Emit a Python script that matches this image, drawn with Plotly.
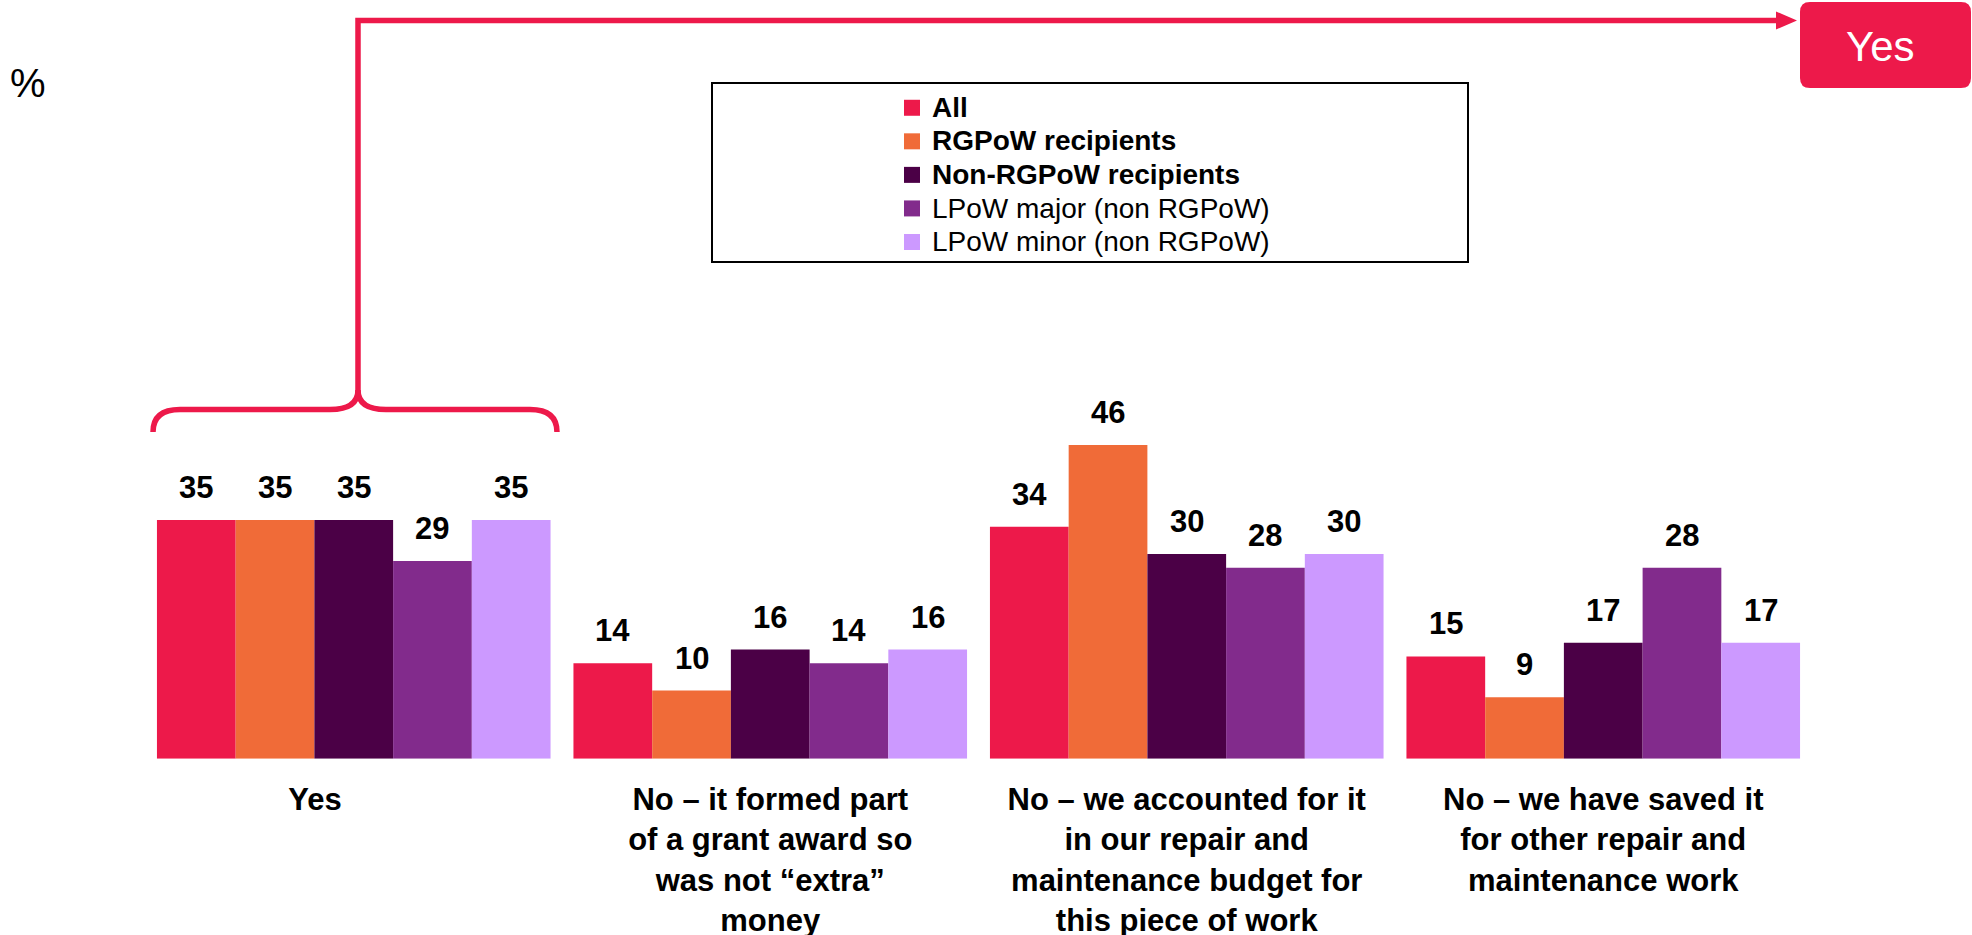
import plotly.graph_objects as go

W, H = 1972, 935

categories = ["Yes",
              "No – it formed part of a grant award so was not “extra” money",
              "No – we accounted for it in our repair and maintenance budget for this piece of work",
              "No – we have saved it for other repair and maintenance work"]
tick_labels = ["Yes" + "\u00a0" * 9,
               "No – it formed part<br>of a grant award so<br>was not “extra”<br>money",
               "No – we accounted for it<br>in our repair and<br>maintenance budget for<br>this piece of work",
               "No – we have saved it<br>for other repair and<br>maintenance work"]

series_names = ["All", "RGPoW recipients", "Non-RGPoW recipients",
                "LPoW major (non RGPoW)", "LPoW minor (non RGPoW)"]
legend_bold = [True, True, True, False, False]
all_vals = [35, 14, 34, 15]
rgpow_vals = [35, 10, 46, 9]
non_rgpow_vals = [35, 16, 30, 17]
lpow_major_vals = [29, 14, 28, 28]
lpow_minor_vals = [35, 16, 30, 17]
values = [all_vals, rgpow_vals, non_rgpow_vals, lpow_major_vals, lpow_minor_vals]
colors = ["#ED194A", "#F06B38", "#4B0046", "#822B8C", "#CC99FF"]

RED = "#ED194A"
FONT = "Liberation Sans"


def px(x):
    return x / W


def py(y):
    return 1 - y / H


def path(points):
    # points: list of (cmd, [(x, y), ...]) in pixels
    s = ""
    for cmd, pts in points:
        s += cmd + " ".join("%.5f,%.5f" % (px(x), py(y)) for x, y in pts) + " "
    return s.strip()


x0_px, x1_px = 145.5, 1811.5
base_px = 758.7
y_max = 50
top_px = base_px - y_max * 6.82
bargap = 0.055
bar_px = (x1_px - x0_px) / len(categories) * (1 - bargap) / len(series_names)

fig = go.Figure()
for name, vals, c in zip(series_names, values, colors):
    fig.add_trace(go.Bar(x=categories, y=vals, name=name, marker_color=c,
                         marker_line_width=0, showlegend=False))

# legend entries with bigger square swatches
for name, bold, c in zip(series_names, legend_bold, colors):
    lab = "<b>%s</b>" % name if bold else name
    lab = '<span style="font-size:28px">%s</span>' % lab
    fig.add_trace(go.Scatter(x=[None], y=[None], mode="markers", name=lab,
                             marker=dict(symbol="square", size=21, color=c)))

annotations = []
for i, vals in enumerate(values):
    for cat, v in zip(categories, vals):
        annotations.append(dict(x=cat, y=v, xref="x", yref="y", text=str(v),
                                showarrow=False, xanchor="center", yanchor="bottom",
                                xshift=(i - 2) * bar_px, yshift=13,
                                font=dict(family=FONT, size=31, color="black", weight="bold")))

annotations.append(dict(x=px(28), y=py(83), xref="paper", yref="paper", text="%",
                        showarrow=False, xanchor="center", yanchor="middle",
                        font=dict(family=FONT, size=40, color="black")))
annotations.append(dict(x=px(1880), y=py(46), xref="paper", yref="paper", text="Yes",
                        showarrow=False, xanchor="center", yanchor="middle",
                        font=dict(family=FONT, size=42, color="white")))

r = 10
bx0, by0, bx1, by1 = 1800, 2, 1971, 88
shapes = [
    # legend box
    dict(type="rect", xref="paper", yref="paper", x0=px(712), x1=px(1468),
         y0=py(262), y1=py(83), line=dict(color="black", width=2), fillcolor="rgba(0,0,0,0)"),
    # bracket over first group
    dict(type="path", xref="paper", yref="paper", line=dict(color=RED, width=5.5),
         fillcolor="rgba(0,0,0,0)",
         path=path([("M", [(153, 432)]), ("Q", [(153, 409.5), (180, 409.5)]),
                    ("L", [(330, 409.5)]), ("Q", [(358, 409.5), (358, 390)]),
                    ("Q", [(358, 409.5), (386, 409.5)]), ("L", [(530, 409.5)]),
                    ("Q", [(557, 409.5), (557, 432)])])),
    # connector line to the box
    dict(type="path", xref="paper", yref="paper", line=dict(color=RED, width=5.5),
         fillcolor="rgba(0,0,0,0)",
         path=path([("M", [(358, 392)]), ("L", [(358, 20.5)]), ("L", [(1780, 20.5)])])),
    # arrow head
    dict(type="path", xref="paper", yref="paper", line=dict(width=0), fillcolor=RED,
         path=path([("M", [(1776, 11.5)]), ("L", [(1797, 20.5)]), ("L", [(1776, 29.5)]), ("Z", [])])),
    # rounded "Yes" box
    dict(type="path", xref="paper", yref="paper", line=dict(width=0), fillcolor=RED,
         path=path([("M", [(bx0 + r, by0)]), ("L", [(bx1 - r, by0)]),
                    ("Q", [(bx1, by0), (bx1, by0 + r)]), ("L", [(bx1, by1 - r)]),
                    ("Q", [(bx1, by1), (bx1 - r, by1)]), ("L", [(bx0 + r, by1)]),
                    ("Q", [(bx0, by1), (bx0, by1 - r)]), ("L", [(bx0, by0 + r)]),
                    ("Q", [(bx0, by0), (bx0 + r, by0)]), ("Z", [])])),
]

fig.update_layout(
    width=W, height=H,
    margin=dict(l=0, r=0, t=0, b=0, autoexpand=False),
    paper_bgcolor="white", plot_bgcolor="white",
    barmode="group", bargap=bargap, bargroupgap=0,
    font=dict(family=FONT, color="black"),
    showlegend=True,
    legend=dict(x=px(892), y=py(86), xanchor="left", yanchor="top",
                font=dict(family=FONT, size=23.5, color="black"),
                bgcolor="rgba(0,0,0,0)", borderwidth=0, traceorder="normal"),
    xaxis=dict(domain=[px(x0_px), px(x1_px)], type="category", automargin=False,
               tickvals=categories, ticktext=tick_labels,
               tickfont=dict(family=FONT, size=31, color="black", weight="bold"),
               ticks="outside", ticklen=13, tickcolor="rgba(0,0,0,0)",
               showline=False, showgrid=False, zeroline=False, fixedrange=True),
    yaxis=dict(domain=[py(base_px), py(top_px)], range=[0, y_max], visible=False,
               automargin=False, showgrid=False, zeroline=False, fixedrange=True),
    annotations=annotations,
    shapes=shapes,
)

fig.write_html("out.html", config={"displayModeBar": False},
               post_script="document.body.style.margin='0';")
